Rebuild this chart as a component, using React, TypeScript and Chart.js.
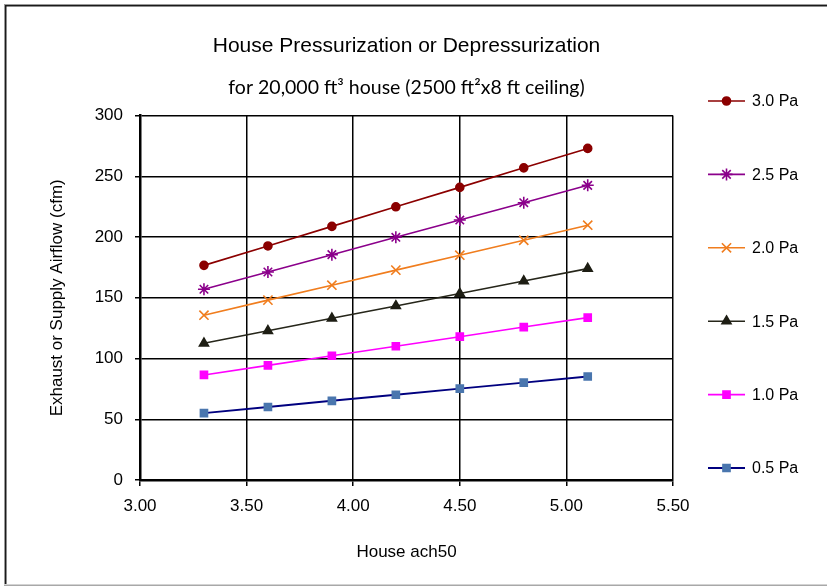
import React, { useEffect, useRef } from 'react';
import { Chart, registerables } from 'chart.js';
import { drawPoint } from 'chart.js/helpers';

Chart.register(...registerables);

// ---- data ----
const ach50 = [3.3, 3.6, 3.9, 4.2, 4.5, 4.8, 5.1];
const pa30 = [176.7, 192.7, 208.8, 224.9, 240.9, 257.0, 273.0];
const pa25 = [157.0, 171.2, 185.5, 199.8, 214.0, 228.3, 242.6];
const pa20 = [135.7, 148.1, 160.4, 172.8, 185.1, 197.4, 209.8];
const pa15 = [112.6, 122.8, 133.1, 143.3, 153.5, 163.8, 174.0];
const pa10 = [86.5, 94.4, 102.3, 110.1, 118.0, 125.9, 133.7];
const pa05 = [55.1, 60.1, 65.2, 70.2, 75.2, 80.2, 85.2];
const seriesLabels = ['3.0 Pa', '2.5 Pa', '2.0 Pa', '1.5 Pa', '1.0 Pa', '0.5 Pa'];
const seriesValues = [pa30, pa25, pa20, pa15, pa10, pa05];
const xMin = 3.0, xMax = 5.5, xStep = 0.5;
const yMin = 0, yMax = 300, yStep = 50;
const titleText = 'House Pressurization or Depressurization';
const subtitleText = 'for 20,000 ft\u00B3 house (2500 ft\u00B2x8 ft ceiling)';
const xTitle = 'House ach50';
const yTitle = 'Exhaust or Supply Airflow (cfm)';

// ---- styles ----
const styles = [
  { line: '#8B0000', fill: '#8B0000', stroke: '#8B0000', point: 'circle', r: 4, lw: 1.6 },
  { line: '#8B008B', fill: '#8B008B', stroke: '#8B008B', point: 'star', r: 6, lw: 1.6 },
  { line: '#F07D1E', fill: '#F07D1E', stroke: '#F07D1E', point: 'crossRot', r: 6.5, lw: 1.6 },
  { line: '#26261A', fill: '#1E1E14', stroke: '#1E1E14', point: 'triangle', r: 5.2, lw: 1.6 },
  { line: '#FF00FF', fill: '#FF00FF', stroke: '#FF00FF', point: 'rect', r: 5, lw: 1.6 },
  { line: '#00007F', fill: '#4A76AE', stroke: '#4A76AE', point: 'rect', r: 5, lw: 1.9 },
];

const FONT = '"Liberation Sans", Arial, sans-serif';
const LEG_LINE_X0 = 708, LEG_LINE_X1 = 745, LEG_TEXT_X = 752, LEG_TOP = 101, LEG_STEP = 73.4;

const framePlugin = {
  id: 'frame',
  beforeDraw(chart: any) {
    const ctx = chart.ctx;
    ctx.save();
    ctx.fillStyle = '#ffffff';
    ctx.fillRect(0, 0, chart.width, chart.height);
    ctx.fillStyle = '#9a9a9a';
    ctx.fillRect(4, 4, chart.width - 4, 1);
    ctx.fillRect(4, 4, 1, 580);
    ctx.fillStyle = '#1a1a1a';
    ctx.fillRect(5, 5, chart.width - 5, 1.5);
    ctx.fillRect(5, 5, 1.5, 579);
    ctx.fillStyle = '#a8a8a8';
    ctx.fillRect(4, 584.5, chart.width - 4, 1.5);
    ctx.restore();
  },
};

const legendPlugin = {
  id: 'sideLegend',
  afterDraw(chart: any) {
    const ctx = chart.ctx;
    ctx.save();
    chart.data.datasets.forEach((ds: any, i: number) => {
      const y = LEG_TOP + i * LEG_STEP;
      ctx.strokeStyle = ds.borderColor;
      ctx.lineWidth = ds.borderWidth;
      ctx.beginPath();
      ctx.moveTo(LEG_LINE_X0, y);
      ctx.lineTo(LEG_LINE_X1, y);
      ctx.stroke();
      ctx.fillStyle = ds.pointBackgroundColor;
      ctx.strokeStyle = ds.pointBorderColor;
      ctx.lineWidth = ds.pointBorderWidth;
      drawPoint(ctx, { pointStyle: ds.pointStyle, radius: ds.pointRadius, borderWidth: ds.pointBorderWidth, rotation: 0 } as any, (LEG_LINE_X0 + LEG_LINE_X1) / 2, y);
      ctx.fillStyle = '#000';
      ctx.font = '16px ' + FONT;
      ctx.textBaseline = 'middle';
      ctx.textAlign = 'left';
      ctx.fillText(ds.label, LEG_TEXT_X, y + 1);
    });
    ctx.restore();
  },
};

export default function App() {
  const ref = useRef<HTMLCanvasElement | null>(null);
  useEffect(() => {
    if (!ref.current) return;
    const datasets = seriesValues.map((vals, i) => ({
      label: seriesLabels[i],
      data: vals.map((v, j) => ({ x: ach50[j], y: v })),
      borderColor: styles[i].line,
      borderWidth: styles[i].lw,
      backgroundColor: styles[i].fill,
      pointStyle: styles[i].point,
      pointRadius: styles[i].r,
      pointBackgroundColor: styles[i].fill,
      pointBorderColor: styles[i].stroke,
      pointBorderWidth: 1.6,
      tension: 0,
      fill: false,
    }));
    const chart = new Chart(ref.current, {
      type: 'line',
      data: { datasets },
      plugins: [framePlugin, legendPlugin],
      options: {
        animation: false,
        responsive: false,
        devicePixelRatio: 1,
        layout: { padding: { left: 0, top: 0, right: 154, bottom: 0 } },
        plugins: {
          legend: { display: false },
          tooltip: { enabled: false },
          title: {
            display: true,
            text: titleText,
            fullSize: false,
            color: '#000',
            font: { family: FONT, size: 21, weight: 'normal' },
            padding: { top: 34, bottom: 0 },
          },
          subtitle: {
            display: true,
            text: subtitleText,
            fullSize: false,
            color: '#000',
            font: { family: 'Lato, "Open Sans", sans-serif', size: 19.5, weight: 'normal' },
            padding: { top: 17, bottom: 16 },
          },
        },
        scales: {
          x: {
            type: 'linear',
            min: xMin,
            max: xMax,
            afterFit: (s: any) => { s.height = 107; },
            ticks: {
              stepSize: xStep,
              color: '#000',
              font: { family: FONT, size: 17 },
              padding: 10,
              callback: (v: any) => Number(v).toFixed(2),
            },
            grid: { color: '#000', lineWidth: 1.5, tickLength: 6, drawTicks: true },
            border: { color: '#000', width: 2.5 },
            title: {
              display: true,
              text: xTitle,
              color: '#000',
              font: { family: FONT, size: 17 },
              padding: { top: 0, bottom: 24 },
            },
          },
          y: {
            type: 'linear',
            min: yMin,
            max: yMax,
            afterFit: (s: any) => { s.width = 140; },
            ticks: {
              stepSize: yStep,
              color: '#000',
              font: { family: FONT, size: 17 },
              padding: 12,
            },
            grid: { color: '#000', lineWidth: 1.5, tickLength: 5, drawTicks: true },
            border: { color: '#000', width: 2.5 },
            title: {
              display: true,
              text: yTitle,
              color: '#000',
              font: { family: FONT, size: 17 },
              padding: { top: 47, bottom: 0 },
            },
          },
        },
      } as any,
    });
    return () => chart.destroy();
  }, []);
  return (
    <div style={{ position: 'fixed', left: 0, top: 0, width: 827, height: 587, background: '#fff' }}>
      <canvas ref={ref} width={827} height={587} style={{ display: 'block' }} />
    </div>
  );
}
